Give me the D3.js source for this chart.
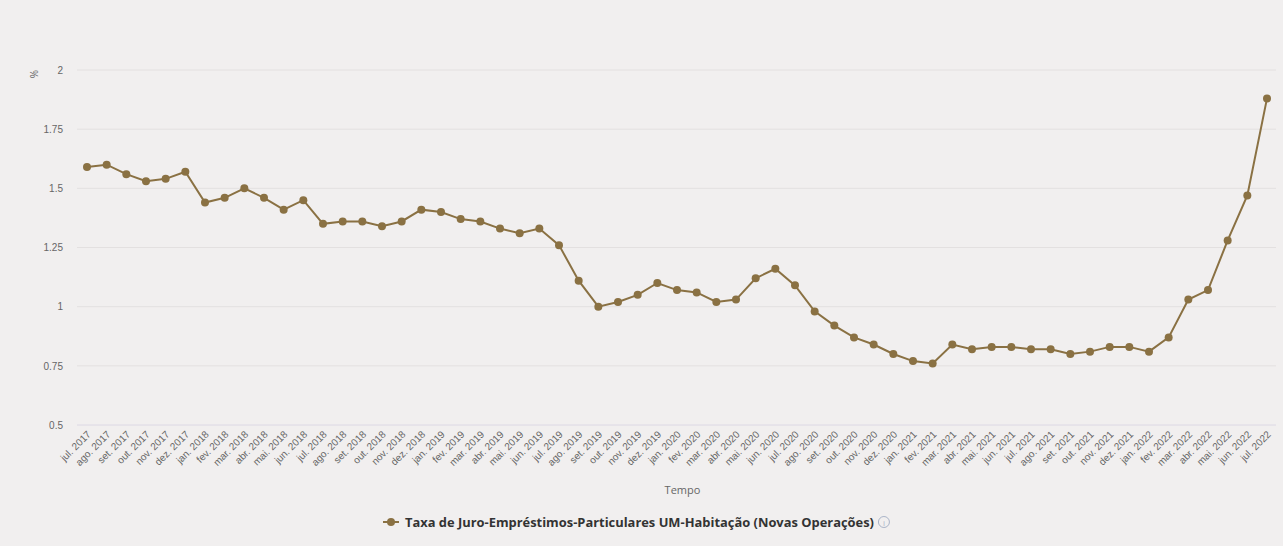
<!DOCTYPE html>
<html>
<head>
<meta charset="utf-8">
<script src="https://cdn.jsdelivr.net/npm/d3@7"></script>
<style>
  html, body { margin: 0; padding: 0; background: #f1efef; }
  svg { display: block; font-family: "Open Sans", "Noto Sans", sans-serif; }
</style>
</head>
<body>
<svg id="chart" width="1283" height="546"></svg>
<script>
// Monthly periods, jul. 2017 – jul. 2022
const months = ["jan.", "fev.", "mar.", "abr.", "mai.", "jun.", "jul.", "ago.", "set.", "out.", "nov.", "dez."];
const periods = [];
for (let i = 0; i < 61; i++) {
  const m = (6 + i) % 12;
  const y = 2017 + Math.floor((6 + i) / 12);
  periods.push(months[m] + " " + y);
}

// Taxa de juro (%) – empréstimos a particulares para habitação, novas operações
const rates = [
  1.59, 1.60, 1.56, 1.53, 1.54, 1.57, 1.44, 1.46, 1.50, 1.46, 1.41, 1.45,
  1.35, 1.36, 1.36, 1.34, 1.36, 1.41, 1.40, 1.37, 1.36, 1.33, 1.31, 1.33,
  1.26, 1.11, 1.00, 1.02, 1.05, 1.10, 1.07, 1.06, 1.02, 1.03, 1.12, 1.16,
  1.09, 0.98, 0.92, 0.87, 0.84, 0.80, 0.77, 0.76, 0.84, 0.82, 0.83, 0.83,
  0.82, 0.82, 0.80, 0.81, 0.83, 0.83, 0.81, 0.87, 1.03, 1.07, 1.28, 1.47,
  1.88
];

const yTicks = [0.5, 0.75, 1, 1.25, 1.5, 1.75, 2];
const seriesName = "Taxa de Juro-Empréstimos-Particulares UM-Habitação (Novas Operações)";
const xTitle = "Tempo";
const yUnit = "%";

const lineColor = "#8a7143";
const svg = d3.select("#chart");

const plot = { left: 77, right: 1276, top: 70, bottom: 425 };

const x = d3.scalePoint().domain(periods).range([87, 1267]);
const y = d3.scaleLinear().domain([0.5, 2]).range([plot.bottom, plot.top]);

// Horizontal grid
svg.append("g")
  .selectAll("line")
  .data(yTicks)
  .join("line")
  .attr("x1", plot.left).attr("x2", plot.right)
  .attr("y1", d => y(d)).attr("y2", d => y(d))
  .attr("stroke", d => d === 0.5 ? "#dcd8e4" : "#e3e0e0")
  .attr("stroke-width", 1);

// Y axis labels
const yAxis = svg.append("g")
  .attr("transform", `translate(${plot.left},0)`)
  .call(d3.axisLeft(y).tickValues(yTicks).tickSize(0).tickPadding(14)
    .tickFormat(d => d3.format("~g")(d)));
yAxis.select(".domain").remove();
yAxis.selectAll("text").attr("fill", "#666").attr("font-size", 10);

// Unit label
svg.append("text")
  .attr("transform", `translate(38,${y(2) + 4}) rotate(-90)`)
  .attr("text-anchor", "middle")
  .attr("font-size", 10)
  .attr("fill", "#666")
  .text(yUnit);

// X axis labels
const xAxis = svg.append("g")
  .attr("transform", `translate(0,${plot.bottom})`)
  .call(d3.axisBottom(x).tickSize(0).tickPadding(0));
xAxis.select(".domain").remove();
xAxis.selectAll("text")
  .attr("fill", "#666")
  .attr("font-size", 10)
  .attr("text-anchor", "end")
  .attr("dy", null)
  .attr("y", 0)
  .attr("transform", "translate(4,10) rotate(-45)");

// X axis title
svg.append("text")
  .attr("x", (plot.left + plot.right) / 2 + 6)
  .attr("y", 494)
  .attr("text-anchor", "middle")
  .attr("font-size", 11)
  .attr("fill", "#666")
  .text(xTitle);

// Series line
const data = periods.map((p, i) => ({ p, v: rates[i] }));
svg.append("path")
  .datum(data)
  .attr("fill", "none")
  .attr("stroke", lineColor)
  .attr("stroke-width", 2)
  .attr("d", d3.line().x(d => x(d.p)).y(d => y(d.v)));

svg.append("g")
  .selectAll("circle")
  .data(data)
  .join("circle")
  .attr("cx", d => x(d.p))
  .attr("cy", d => y(d.v))
  .attr("r", 4)
  .attr("fill", lineColor);

// Legend
const lg = svg.append("g").attr("transform", "translate(383,522)");
lg.append("line").attr("x1", 0).attr("x2", 16).attr("y1", 0).attr("y2", 0)
  .attr("stroke", lineColor).attr("stroke-width", 2);
lg.append("circle").attr("cx", 8).attr("cy", 0).attr("r", 4).attr("fill", lineColor);
const lt = lg.append("text")
  .attr("x", 22).attr("y", 4.5)
  .attr("font-size", 12.9).attr("font-weight", 700)
  .attr("fill", "#333")
  .text(seriesName);
const tw = lt.node().getComputedTextLength();
const info = lg.append("g").attr("transform", `translate(${22 + tw + 10},0)`);
info.append("circle").attr("r", 5.5).attr("fill", "none").attr("stroke", "#aab4c8").attr("stroke-width", 1);
info.append("text").attr("y", 3.5).attr("text-anchor", "middle")
  .attr("font-size", 8).attr("fill", "#aab4c8").text("i");
</script>
</body>
</html>
